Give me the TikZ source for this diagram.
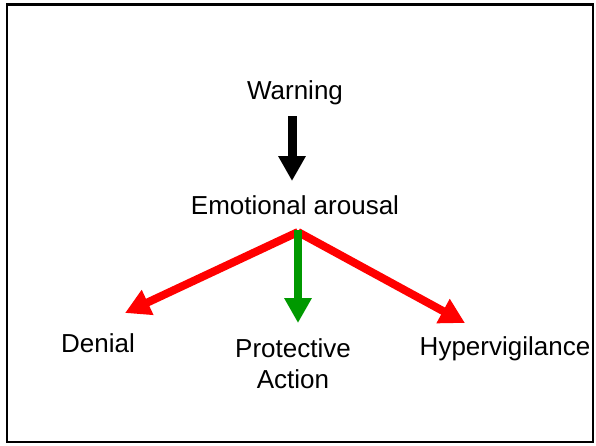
\documentclass[tikz,border=0pt]{standalone}
\usepackage{fontspec}
\setmainfont{Liberation Sans}
\usetikzlibrary{arrows.meta}
\definecolor{arrred}{RGB}{255,0,0}
\definecolor{arrgreen}{RGB}{0,153,0}
\tikzset{
  lbl/.style={font=\fontsize{26}{31}\selectfont, inner sep=0pt, align=center},
  fatarrow/.style={line width=9pt, -{Triangle[length=25pt,width=26pt]}},
}
\begin{document}
\begin{tikzpicture}[x=1pt,y=-1pt]
\useasboundingbox (0,0) rectangle (596,445);
\draw[line width=2.5pt] (7,4.5) rectangle (593,442);
\node[lbl] (warning) at (295,93) {Warning};
\node[lbl] (emo) at (295,205) {Emotional arousal};
\node[lbl] (denial) at (98,343) {Denial};
\node[lbl] (prot) at (293,364) {Protective\\Action};
\node[lbl] (hyper) at (505,349) {Hypervigilance};
\coordinate (wtop) at (292,116);
\coordinate (hub) at (298,232);
\coordinate (dtip) at (125,313);
\coordinate (htip) at (465,323);
\draw[fatarrow, black] (wtop) -- (292,181);
\draw[fatarrow, arrred, line width=8pt] (hub) -- (dtip);
\draw[fatarrow, arrred, line width=8pt] (hub) -- (htip);
\draw[fatarrow, arrgreen, line width=8pt] (298,230) -- (298,323);
\end{tikzpicture}
\end{document}
